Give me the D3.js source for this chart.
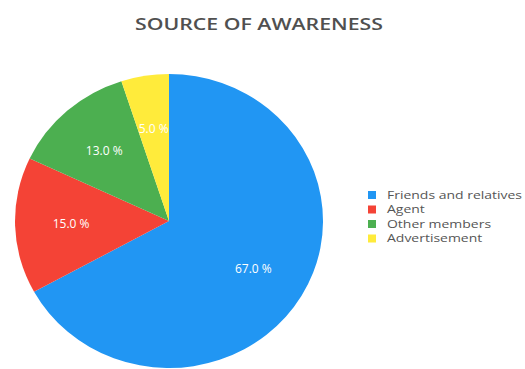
<!DOCTYPE html>
<html>
<head>
<meta charset="utf-8">
<script src="https://cdn.jsdelivr.net/npm/d3@7/dist/d3.min.js"></script>
<style>
  body { margin: 0; background: #fff; }
  svg { display: block; }
</style>
</head>
<body>
<svg id="chart" width="525" height="369"></svg>
<script>
// Chart data
const categories = ['Friends and relatives', 'Agent', 'Other members', 'Advertisement'];
const shares = [67, 15, 13, 5];
const sliceColors = ['#2196F3', '#F44336', '#4CAF50', '#FFEB3B'];

const svg = d3.select('#chart');

// Pie geometry (reference is slightly squashed vertically)
const cx = 169, cy = 221;
const radius = 154;
const yScale = 147 / 154;
const labelRadius = 98;

// Title
svg.append('text')
    .attr('x', 259)
    .attr('y', 30)
    .attr('text-anchor', 'middle')
    .attr('font-family', 'Open Sans, sans-serif')
    .attr('font-size', '16px')
    .attr('font-weight', '600')
    .attr('fill', '#505050')
    .attr('textLength', 248)
    .attr('lengthAdjust', 'spacingAndGlyphs')
    .text('SOURCE OF AWARENESS');

const data = categories.map((c, i) => ({ key: c, value: shares[i], color: sliceColors[i] }));

const pie = d3.pie()
    .value(d => d.value)
    .sort(null);

const arc = d3.arc()
    .innerRadius(0)
    .outerRadius(radius);

const labelArc = d3.arc()
    .innerRadius(labelRadius)
    .outerRadius(labelRadius);

const arcs = pie(data);

// Slices, squashed a bit in y
const pieGroup = svg.append('g')
    .attr('transform', `translate(${cx},${cy}) scale(1,${yScale})`);

pieGroup.selectAll('.segment')
    .data(arcs)
    .join('path')
    .attr('class', 'segment')
    .attr('d', arc)
    .attr('fill', d => d.data.color);

// Percentage labels (kept outside the scaled group so text isn't squashed)
const total = d3.sum(shares);
svg.append('g')
    .selectAll('.segment-label')
    .data(arcs)
    .join('text')
    .attr('class', 'segment-label')
    .attr('x', d => cx + labelArc.centroid(d)[0])
    .attr('y', d => cy + labelArc.centroid(d)[1] * yScale)
    .attr('dy', '0.35em')
    .attr('text-anchor', 'middle')
    .attr('font-family', 'Open Sans, sans-serif')
    .attr('font-size', '12px')
    .attr('fill', '#fff')
    .text(d => `${(d.data.value / total * 100).toFixed(1)} %`);

// Legend
const legend = svg.append('g')
    .attr('transform', 'translate(368,195)');

const rowH = 14.5;
const items = legend.selectAll('.legend-item')
    .data(data)
    .join('g')
    .attr('class', 'legend-item')
    .attr('transform', (d, i) => `translate(0,${i * rowH})`);

items.append('rect')
    .attr('x', 0)
    .attr('y', -4)
    .attr('width', 8)
    .attr('height', 8)
    .attr('fill', d => d.color);

const labels = items.append('text')
    .attr('x', 19)
    .attr('dy', '0.35em')
    .attr('font-family', 'Open Sans, sans-serif')
    .attr('font-size', '11px')
    .attr('fill', '#555')
    .text(d => d.key);

// Reference legend text is stretched wide; match first entry width
const natural = labels.nodes()[0].getComputedTextLength();
const sx = 135 / natural;
labels.each(function() {
    const w = this.getComputedTextLength();
    d3.select(this)
        .attr('textLength', w * sx)
        .attr('lengthAdjust', 'spacingAndGlyphs');
});
</script>
</body>
</html>
